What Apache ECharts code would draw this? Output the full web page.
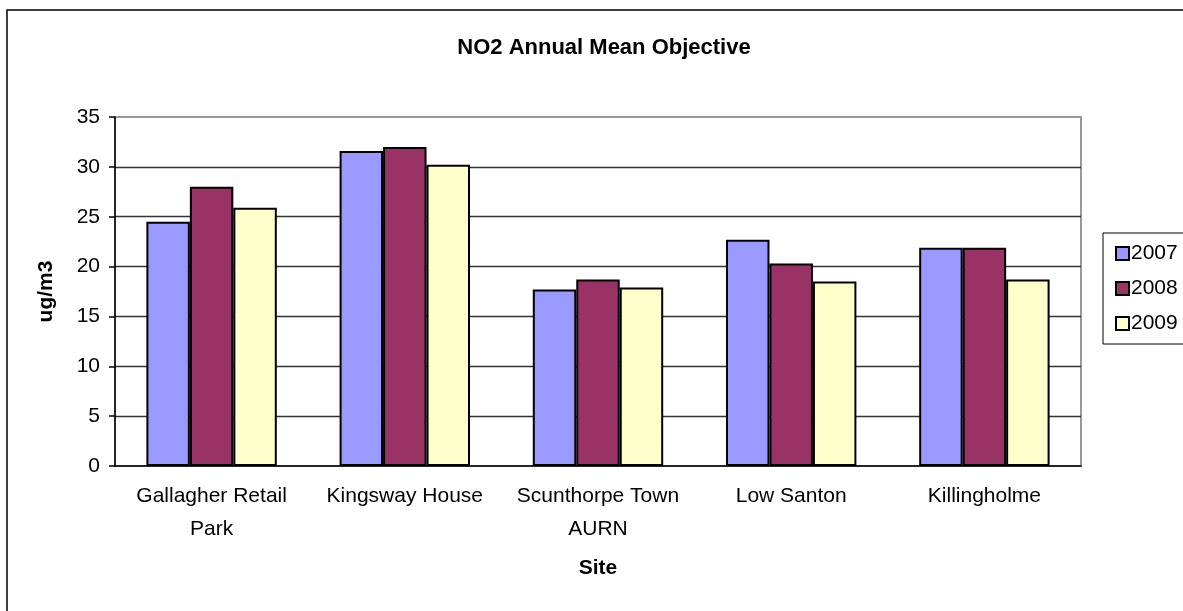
<!DOCTYPE html>
<html>
<head>
<meta charset="utf-8">
<script src="https://cdn.jsdelivr.net/npm/echarts@6/dist/echarts.min.js"></script>
<style>
  html, body { margin: 0; padding: 0; background: #fff; }
  #chart { width: 1183px; height: 611px; }
</style>
</head>
<body>
<div id="chart"></div>
<script>
var sites = ['Gallagher Retail\nPark', 'Kingsway House', 'Scunthorpe Town\nAURN', 'Low Santon', 'Killingholme']
var years = ['2007', '2008', '2009']
var values2007 = [24.5, 31.6, 17.7, 22.7, 21.9]
var values2008 = [28.0, 32.0, 18.7, 20.3, 21.9]
var values2009 = [25.9, 30.2, 17.9, 18.5, 18.7]
var yTicks = [0, 35, 5] // min, max, interval

var myChart = echarts.init(document.getElementById('chart'))
var font = '"Liberation Sans", Arial, sans-serif'
var colors = ['#9999FF', '#993366', '#FFFFCC']
var seriesData = [values2007, values2008, values2009]

var series = years.map(function (y, i) {
    return {
        name: y,
        type: 'bar',
        data: seriesData[i],
        barGap: '0%',
        barCategoryGap: '32.5%',
        itemStyle: {
            color: colors[i],
            borderColor: '#000',
            borderWidth: 2
        },
        emphasis: { disabled: true }
    }
})

option = {
    animation: false,
    textStyle: { fontFamily: font },
    title: {
        text: 'NO2 Annual Mean Objective',
        left: 599,
        top: 32,
        textAlign: 'center',
        textStyle: { fontFamily: font, fontSize: 22, fontWeight: 'bold', color: '#000' }
    },
    legend: {
        orient: 'vertical',
        left: 1110,
        top: 238,
        itemWidth: 13,
        itemHeight: 13,
        itemGap: 14,
        icon: 'rect',
        data: years,
        textStyle: { fontFamily: font, fontSize: 21, color: '#000', padding: [0, 0, 0, -3] }
    },
    grid: {
        left: 115,
        top: 117,
        width: 966,
        height: 349,
        show: true,
        borderColor: '#999',
        borderWidth: 2
    },
    xAxis: {
        type: 'category',
        data: sites,
        name: 'Site',
        nameLocation: 'middle',
        nameGap: 92,
        nameTextStyle: { fontFamily: font, fontSize: 21, fontWeight: 'bold', color: '#000' },
        axisLine: { lineStyle: { color: '#000', width: 1.5 } },
        axisTick: { length: 6, lineStyle: { color: '#000', width: 1.5 } },
        axisLabel: { interval: 0, margin: 14, fontSize: 21, lineHeight: 33, color: '#000', fontFamily: font }
    },
    yAxis: {
        type: 'value',
        min: yTicks[0],
        max: yTicks[1],
        interval: yTicks[2],
        name: 'ug/m3',
        nameLocation: 'middle',
        nameGap: 58,
        nameTextStyle: { fontFamily: font, fontSize: 21, fontWeight: 'bold', color: '#000' },
        axisLine: { show: true, lineStyle: { color: '#000', width: 1.5 } },
        axisTick: { show: true, length: 6, lineStyle: { color: '#000', width: 1.5 } },
        axisLabel: { margin: 15, fontSize: 21, color: '#000', fontFamily: font },
        splitLine: {
            show: true,
            showMinLine: false,
            showMaxLine: false,
            lineStyle: { color: '#333', width: 1.3 }
        }
    },
    graphic: [
        {
            type: 'rect',
            shape: { x: 7, y: 10, width: 1250, height: 700 },
            style: { fill: 'none', stroke: '#000', lineWidth: 1.5 },
            silent: true
        },
        {
            type: 'rect',
            shape: { x: 1103, y: 233, width: 120, height: 111 },
            style: { fill: 'none', stroke: '#000', lineWidth: 1 },
            silent: true
        }
    ],
    series: series
}

myChart.setOption(option)
</script>
</body>
</html>
